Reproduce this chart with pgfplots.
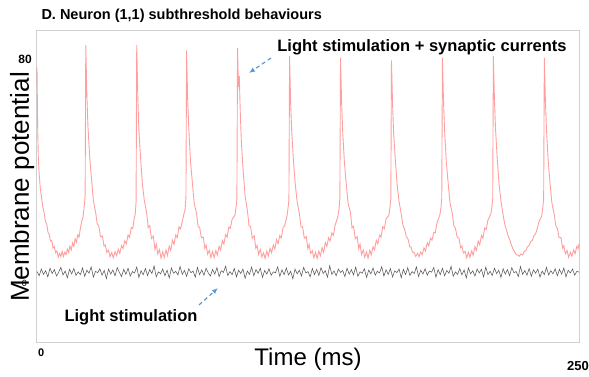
\documentclass[border=0pt]{standalone}
\usepackage{fontspec}
\setmainfont{Liberation Sans}
\usepackage{pgfplots}
\pgfplotsset{compat=1.18}
\usepackage{pgfplotstable}
\usetikzlibrary{arrows.meta}
\definecolor{frame}{RGB}{208,208,208}
\definecolor{redline}{RGB}{255,95,95}
\definecolor{arrowblue}{RGB}{91,155,213}
\pgfplotstableread{
t v
0 77
0.3 56
0.6 45
1.0 39
1.5 34
2.1 30.5
2.7 27
3.2 25.5
3.9 22
4.5 21
5.1 18
5.6 17.5
6.2 15
6.8 15.2
7.4 12.5
8.0 13
8.6 10.8
9.2 11.5
9.8 9.2
10.4 10.6
11.0 9.4
11.6 11.3
12.2 9.5
12.8 11.0
13.4 10.2
14.0 12.1
14.6 10.9
15.2 13.2
15.8 11.8
16.4 14.3
17.0 13.1
17.6 15.8
18.2 14.6
18.8 17.2
19.4 16.4
20.0 19.5
20.6 22.0
21.2 23.4
21.8 27.5
22.2 31
22.5 85
23.0 67
23.5 56
24.3 45
25.1 37.5
26.0 29.5
27.1 25.0
27.8 21.0
28.5 20.5
29.3 16.5
30.2 16.8
30.9 13.2
31.5 13.6
32.2 10.9
33.0 11.8
33.7 9.4
34.5 10.9
35.2 9.0
36.0 11.2
36.7 9.8
37.5 12.0
38.2 10.6
39.0 13.4
39.7 12.3
40.5 15.1
41.2 14.0
42.0 17.2
42.7 16.3
43.5 19.8
44.2 19.5
44.8 23.0
45.3 24.5
45.7 29
46.0 85
46.5 66.5
47.0 54.5
47.8 44.5
48.6 35.5
49.5 29.5
50.6 25.0
51.3 19.8
52.0 20.5
52.8 15.9
53.7 16.7
54.4 12.0
55.0 13.9
55.7 10.4
56.5 11.9
57.2 8.9
58.0 11.2
58.7 9.1
59.5 11.8
60.2 9.9
61.0 13.2
61.7 11.6
62.5 15.3
63.2 13.8
64.0 17.2
64.7 16.2
65.5 20.1
66.2 19.3
67.0 22.0
67.8 24.8
68.3 26.2
68.7 30.5
69.0 83
69.5 65.5
70.0 55.5
70.8 43.5
71.6 36.5
72.5 28.5
73.6 24.8
74.3 20.2
75.0 19.9
75.8 16.2
76.7 16.4
77.4 12.4
78.0 13.6
78.7 10.3
79.5 11.7
80.2 9.1
81.0 11.3
81.7 9.0
82.5 11.6
83.2 10.0
84.0 13.1
84.7 11.8
85.5 15.2
86.2 13.9
87.0 17.3
87.7 16.4
88.5 20.0
89.2 19.6
90.0 22.8
91.3 24.2
91.8 27.0
92.2 30.0
92.5 84
92.9 70
93.3 74
93.8 60
94.3 50
95.1 40
96.0 31
97.1 25.5
97.8 20.5
98.5 20.2
99.3 16.0
100.2 16.9
100.9 12.5
101.5 13.4
102.2 10.2
103.0 12.0
103.7 9.3
104.5 10.8
105.2 8.8
106.0 11.4
106.7 9.6
107.5 12.4
108.2 10.8
109.0 13.6
109.7 12.2
110.5 15.5
111.2 14.1
112.0 17.0
112.7 16.1
113.5 19.8
114.2 20.4
115.3 23.9
115.8 26.8
116.2 29.5
116.5 81
117.0 64
117.5 54
118.3 43.5
119.1 35.5
120.0 29
121.1 24.5
121.8 20.0
122.5 20.1
123.3 16.0
124.2 16.6
124.9 12.3
125.5 13.8
126.2 10.6
127.0 11.5
127.7 9.0
128.5 11.0
129.2 8.8
130.0 11.4
130.7 9.7
131.5 12.6
132.2 11.0
133.0 14.4
133.7 13.1
134.5 16.2
135.2 15.0
136.0 17.9
136.7 17.0
137.5 20.6
138.8 23.9
139.3 26.4
139.7 30.2
140.0 80.5
140.5 64.5
141.0 54
141.8 43
142.6 35.8
143.5 28.4
144.6 25.1
145.3 19.7
146.0 20.3
146.8 15.8
147.7 16.6
148.4 12.2
149.0 13.9
149.7 10.2
150.5 11.8
151.2 9.2
152.0 11.1
152.7 8.9
153.5 11.7
154.2 10.1
155.0 13.0
155.7 11.9
156.5 15.3
157.2 14.0
158.0 17.1
158.7 16.4
159.5 20.2
160.2 19.4
161.0 22.9
162.3 24.1
162.8 27.2
163.2 29.8
163.5 79.5
164.0 64
164.5 53.5
165.3 43.8
166.1 35.2
167.0 29.1
168.1 24.2
168.8 20.6
169.5 19.4
170.3 16.7
171.2 15.6
171.9 13.0
172.5 12.9
173.2 11.0
174.0 10.9
174.7 9.5
175.5 10.6
176.2 9.4
177.0 11.1
177.7 10.2
178.5 12.6
179.2 11.5
180.0 14.4
180.7 13.3
181.5 16.0
182.2 15.3
183.0 18.1
183.7 17.9
184.5 21.5
185.8 24.3
186.3 26.6
186.7 30.4
187.0 80.5
187.5 65
188.0 54.5
188.8 43.2
189.6 36.1
190.5 28.7
191.6 24.6
192.3 20.3
193.0 19.6
193.8 16.4
194.7 15.9
195.4 12.6
196.0 13.2
196.7 10.7
197.5 11.3
198.2 9.0
199.0 11.0
199.7 9.2
200.5 11.5
201.2 9.9
202.0 13.0
202.7 11.7
203.5 15.0
204.2 13.7
205.0 17.0
205.7 16.0
206.5 19.7
207.2 19.1
208.0 22.5
209.3 24.6
209.8 26.9
210.2 30.1
210.5 81
211.0 65.5
211.5 55
212.3 44.2
213.1 35.6
214.0 29.3
215.1 23.8
215.8 20.9
216.5 19.0
217.3 16.9
218.2 15.2
218.9 13.4
219.5 12.3
220.2 11.3
221.0 10.2
221.7 10.0
222.5 9.6
223.2 10.4
224.0 10.0
224.7 11.3
225.5 11.6
226.2 12.9
227.0 13.4
227.7 14.8
228.5 15.2
229.2 16.9
230.0 17.6
230.7 19.3
231.5 21.8
232.8 24.0
233.3 26.8
233.7 30.3
234.0 80.5
234.5 65
235.0 54.8
235.8 43.6
236.6 35.9
237.5 28.6
238.6 24.3
239.3 20.5
240.0 19.5
240.8 16.3
241.7 16.2
242.4 12.5
243.0 13.4
243.7 10.4
244.5 11.6
245.2 9.2
246.0 11.0
246.7 9.6
247.5 11.8
248.2 10.5
249.0 13.1
249.6 12.2
250.0 14.0
}\redtable
\pgfplotstableread{
t v
0 4.1
1 2.6
2 5.0
3 3.1
4 4.4
5 2.2
6 5.3
7 3.4
8 4.8
9 2.5
10 3.9
11 5.6
12 2.9
13 4.3
14 1.9
15 4.9
16 3.3
17 5.2
18 2.7
19 4.0
20 3.0
21 5.4
22 2.4
23 4.6
24 3.5
25 5.8
26 2.1
27 4.2
28 3.7
29 5.1
30 2.8
31 4.5
32 1.6
33 5.0
34 3.2
35 4.7
36 2.6
37 5.5
38 3.8
39 2.3
40 4.9
41 3.1
42 5.3
43 2.5
44 4.1
45 3.6
46 5.7
47 2.0
48 4.4
49 3.0
50 5.2
51 2.7
52 4.8
53 3.4
54 6.1
55 2.2
56 4.0
57 3.3
58 5.0
59 2.6
60 4.6
61 1.8
62 5.4
63 3.5
64 4.2
65 2.9
66 5.9
67 3.1
68 4.5
69 2.4
70 5.1
71 3.7
72 4.3
73 2.1
74 5.6
75 3.0
76 4.7
77 2.8
78 5.3
79 3.6
80 2.5
81 4.9
82 3.2
83 5.5
84 2.3
85 4.4
86 3.8
87 6.0
88 2.7
89 4.1
90 3.0
91 5.2
92 2.2
93 4.6
94 3.4
95 5.0
96 1.7
97 4.3
98 3.1
99 5.7
100 2.6
101 4.8
102 3.5
103 5.3
104 2.0
105 4.5
106 3.2
107 5.1
108 2.8
109 4.0
110 3.7
111 5.8
112 2.4
113 4.7
114 3.0
115 5.4
116 2.9
117 4.2
118 1.5
119 5.0
120 3.3
121 4.6
122 2.5
123 5.6
124 3.6
125 4.1
126 2.2
127 5.2
128 3.0
129 4.9
130 2.7
131 5.5
132 3.4
133 4.4
134 2.1
135 6.2
136 3.1
137 4.3
138 2.6
139 5.0
140 3.8
141 4.5
142 2.3
143 5.3
144 3.2
145 4.8
146 2.9
147 5.7
148 2.4
149 4.0
150 3.5
151 5.1
152 2.0
153 4.6
154 3.3
155 5.4
156 2.8
157 4.2
158 3.6
159 5.9
160 2.5
161 4.7
162 3.1
163 5.2
164 2.2
165 4.4
166 3.7
167 5.0
168 1.9
169 4.9
170 3.0
171 5.5
172 2.7
173 4.1
174 3.4
175 5.8
176 2.3
177 4.6
178 3.2
179 5.1
180 2.8
181 4.3
182 3.9
183 5.6
184 2.1
185 4.8
186 3.0
187 5.3
188 2.6
189 4.5
190 3.5
191 6.0
192 2.4
193 4.0
194 3.1
195 5.2
196 2.9
197 4.7
198 1.8
199 5.4
200 3.3
201 4.4
202 2.5
203 5.0
204 3.6
205 4.9
206 2.2
207 5.7
208 3.0
209 4.2
210 2.7
211 5.3
212 3.4
213 4.6
214 2.0
215 5.1
216 3.2
217 4.8
218 2.6
219 5.5
220 3.7
221 4.1
222 2.3
223 5.9
224 3.1
225 4.5
226 2.8
227 5.2
228 2.4
229 4.7
230 3.5
231 5.0
232 2.1
233 4.3
234 3.0
235 5.6
236 2.9
237 4.4
238 3.3
239 5.1
240 2.6
241 4.9
242 3.2
243 5.4
244 2.2
245 4.6
246 3.6
247 5.0
248 2.8
249 4.2
250 3.9
}\blacktable
\begin{document}
\begin{tikzpicture}
\begin{axis}[
  scale only axis,
  width=542pt, height=312pt,
  xmin=0, xmax=250, ymin=-21.4, ymax=90,
  clip=false,
  axis line style={draw=frame, line width=1pt},
  major tick length=0pt,
  /pgf/number format/assume math mode=true,
  xtick={0}, xticklabels={0},
  extra x ticks={250}, extra x tick labels={250},
  xticklabel style={font=\bfseries\fontsize{11}{13}\selectfont, anchor=north west, inner sep=0pt, xshift=1pt, yshift=-6pt},
  extra x tick style={xticklabel style={font=\bfseries\fontsize{13}{15}\selectfont, anchor=north east, inner sep=0pt, xshift=9pt, yshift=-12pt}},
  ytick={80}, yticklabels={80},
  extra y ticks={0}, extra y tick labels={0},
  yticklabel style={font=\bfseries\fontsize{12}{14}\selectfont, anchor=east, inner sep=0pt, xshift=-5pt},
  extra y tick style={yticklabel style={font=\fontsize{9}{11}\selectfont, anchor=east, inner sep=0pt, xshift=-5pt}},
  xlabel={Time (ms)},
  xlabel style={at={(axis description cs:0.5,-0.0737)}, anchor=base, font=\fontsize{24}{28}\selectfont},
  ylabel={Membrane potential},
  ylabel style={at={(axis description cs:-0.0148,0.5)}, anchor=base, font=\fontsize{26}{30}\selectfont},
]
\addplot[color=redline, line width=0.9pt, opacity=0.6] table[x=t,y=v] {\redtable};
\addplot[color=black!65, line width=0.55pt] table[x=t,y=v] {\blacktable};
\node[anchor=base west, font=\bfseries\fontsize{14.5}{17}\selectfont] at (axis description cs:0.0018,1.0353) {D. Neuron (1,1) subthreshold behaviours};
\node[anchor=base, font=\bfseries\fontsize{16.5}{19}\selectfont] at (axis description cs:0.7103,0.9337) {Light stimulation + synaptic currents};
\node[anchor=base, font=\bfseries\fontsize{16.5}{19}\selectfont] at (axis description cs:0.1734,0.0683) {Light stimulation};
\draw[arrowblue, line width=1.2pt, dash pattern=on 4pt off 3pt, -{Latex[length=6pt,width=5pt]}] (axis description cs:0.4317,0.9135) -- (axis description cs:0.3911,0.8654);
\draw[arrowblue, line width=1.2pt, dash pattern=on 4pt off 3pt, -{Latex[length=6pt,width=5pt]}] (axis description cs:0.2989,0.1218) -- (axis description cs:0.3339,0.1763);
\end{axis}
\pgfresetboundingbox
\path[use as bounding box] (-37pt,-34pt) rectangle (552pt,343pt);
\end{tikzpicture}
\end{document}
